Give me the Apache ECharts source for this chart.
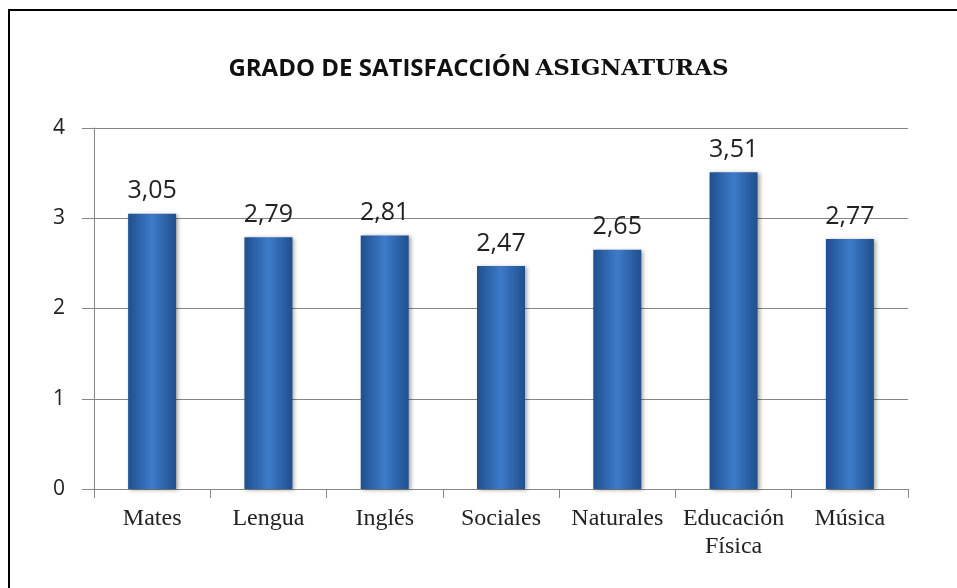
<!DOCTYPE html>
<html>
<head>
<meta charset="utf-8">
<script src="https://cdn.jsdelivr.net/npm/echarts@6/dist/echarts.min.js"></script>
<style>
  html, body { margin: 0; padding: 0; background: #fff; }
  #chart { width: 957px; height: 588px; }
</style>
</head>
<body>
<div id="chart"></div>
<script>
// datos del gráfico
var categories = ["Mates", "Lengua", "Inglés", "Sociales", "Naturales", "Educación\nFísica", "Música"];
var values = [3.05, 2.79, 2.81, 2.47, 2.65, 3.51, 2.77];
var yTicks = [0, 1, 2, 3, 4];

var chart = echarts.init(document.getElementById("chart"));

var barColor = new echarts.graphic.LinearGradient(0, 0, 1, 0, [
  { offset: 0, color: "#1f4f8e" },
  { offset: 0.5, color: "#3d7bc9" },
  { offset: 1, color: "#1f4f8e" }
]);

var option = {
  backgroundColor: "#fff",
  animation: false,
  graphic: [{
    type: "rect",
    shape: { x: 9, y: 10, width: 960, height: 600 },
    style: { fill: "none", stroke: "#000", lineWidth: 2 }
  }],
  title: {
    text: "{a|GRADO DE SATISFACCIÓN} {b|ASIGNATURAS}",
    left: "center",
    top: 52,
    textStyle: {
      rich: {
        a: { fontFamily: "Open Sans", fontWeight: "bold", fontSize: 24, color: "#111" },
        b: { fontFamily: "DejaVu Serif", fontWeight: "bold", fontSize: 23, color: "#111" }
      }
    }
  },
  grid: { left: 94, right: 49, top: 128, bottom: 99, containLabel: false },
  xAxis: {
    type: "category",
    data: categories,
    axisLine: { lineStyle: { color: "#868686", width: 1 } },
    axisTick: { show: true, length: 9, alignWithLabel: false, lineStyle: { color: "#868686" } },
    axisLabel: {
      interval: 0,
      margin: 16,
      fontFamily: "Liberation Serif",
      fontSize: 24,
      color: "#222",
      lineHeight: 28
    }
  },
  yAxis: {
    type: "value",
    min: yTicks[0],
    max: yTicks[yTicks.length - 1],
    interval: 1,
    axisLine: { show: true, lineStyle: { color: "#868686" } },
    axisTick: { show: true, length: 12, lineStyle: { color: "#868686" } },
    splitLine: { lineStyle: { color: "#868686", width: 1 } },
    axisLabel: { margin: 29, fontFamily: "Open Sans", fontSize: 21, color: "#222" }
  },
  series: [{
    type: "bar",
    data: values,
    barWidth: 48,
    itemStyle: {
      color: barColor,
      shadowColor: "rgba(0,0,0,0.35)",
      shadowBlur: 4,
      shadowOffsetX: 2,
      shadowOffsetY: 1
    },
    label: {
      show: true,
      position: "top",
      distance: 10,
      fontFamily: "Open Sans",
      fontSize: 25,
      color: "#222",
      formatter: function (p) { return p.value.toFixed(2).replace(".", ","); }
    }
  }]
};

chart.setOption(option);
</script>
</body>
</html>
